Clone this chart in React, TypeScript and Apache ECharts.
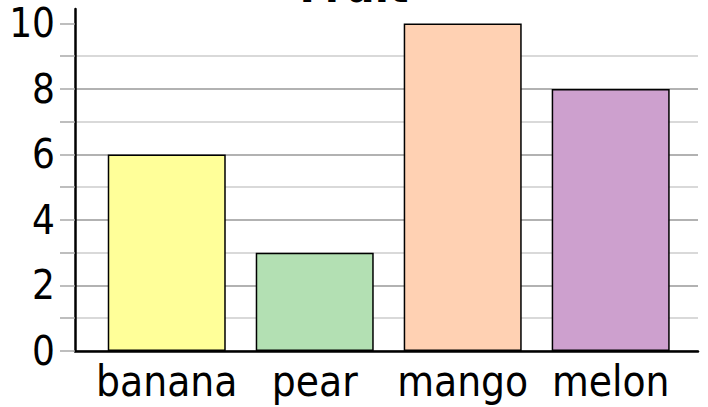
import React, { useEffect, useRef } from "react";
import * as echarts from "echarts";

const title = "Fruit";
const categories = ["banana", "pear", "mango", "melon"];
const values = [6, 3, 10, 8];
const barColors = ["#ffff99", "#b3e0b3", "#ffd1b3", "#cda0ce"];
const yTickValues = [0, 1, 2, 3, 4, 5, 6, 7, 8, 9, 10];
const yLabelValues = [0, 2, 4, 6, 8, 10];
const xLabelValues = [0, 1, 2, 3];

export default function App() {
  const ref = useRef<HTMLDivElement>(null);
  useEffect(() => {
    if (!ref.current) return;
    const chart = echarts.init(ref.current, null, { renderer: "svg" });
    const font = "'DejaVu Sans Condensed', 'DejaVu Sans'";
    chart.setOption({
      animation: false,
      backgroundColor: "#ffffff",
      title: {
        text: title,
        left: "center",
        top: -42,
        textStyle: { fontFamily: font, fontSize: 46, fontWeight: "bold", color: "#000" },
      },
      grid: { left: 75, right: 10, top: 9, bottom: 56, containLabel: false },
      xAxis: {
        type: "value",
        min: -0.62,
        max: 3.59,
        axisLine: { show: true, onZero: false, lineStyle: { color: "#000", width: 2.5 } },
        axisTick: { show: false },
        splitLine: { show: false },
        axisLabel: {
          customValues: xLabelValues,
          formatter: (v: number) => categories[Math.round(v)] ?? "",
          fontFamily: font,
          fontSize: 42,
          color: "#000",
          margin: 9,
        },
      },
      yAxis: {
        type: "value",
        min: 0,
        max: 10.44,
        axisLine: { show: true, onZero: false, lineStyle: { color: "#000", width: 2.5 } },
        axisTick: {
          show: true,
          customValues: yTickValues,
          length: 15,
          lineStyle: { color: "#a8a8a8", width: 1.5 },
        },
        splitLine: {
          show: true,
          showMaxLine: false,
          lineStyle: { color: ["#999999", "#cccccc"], width: 1.5 },
        },
        axisLabel: {
          customValues: yLabelValues,
          fontFamily: font,
          fontSize: 40,
          color: "#000",
          margin: 20,
        },
      },
      series: [
        {
          type: "bar",
          barWidth: 118,
          data: values.map((v, i) => ({
            value: [i, v],
            itemStyle: { color: barColors[i], borderColor: "#000", borderWidth: 1.5 },
          })),
        },
      ],
    });
    return () => chart.dispose();
  }, []);
  return (
    <div
      ref={ref}
      style={{ position: "fixed", left: 0, top: 0, width: 708, height: 407 }}
    />
  );
}
